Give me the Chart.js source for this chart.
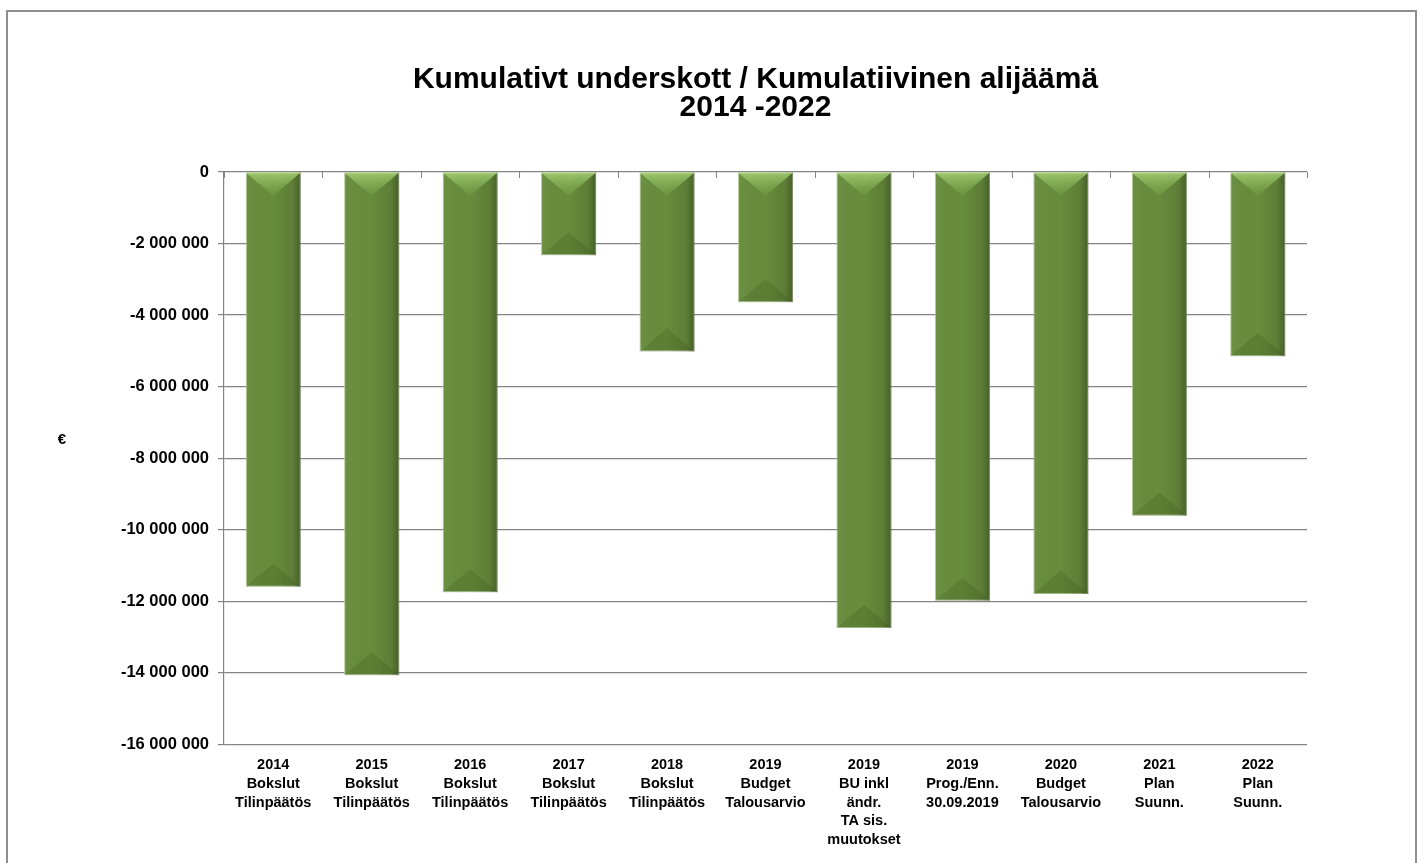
<!DOCTYPE html>
<html>
<head>
<meta charset="utf-8">
<script src="https://cdn.jsdelivr.net/npm/chart.js@4/dist/chart.umd.min.js"></script>
<style>
    body { margin: 0; background: #fff; overflow: hidden; }
    #frame {
        position: absolute; left: 6px; top: 10px;
        width: 1407px; height: 900px;
        border: 2px solid #8e8e8e;
    }
    #chartContainer { position: absolute; left: 0; top: 0; width: 1421px; height: 863px; }
</style>
</head>
<body>
<div id="frame"></div>
<div id="chartContainer"><canvas id="deficitChart"></canvas></div>
<script>
// Data
const categories = [
    ["2014", "Bokslut", "Tilinpäätös"],
    ["2015", "Bokslut", "Tilinpäätös"],
    ["2016", "Bokslut", "Tilinpäätös"],
    ["2017", "Bokslut", "Tilinpäätös"],
    ["2018", "Bokslut", "Tilinpäätös"],
    ["2019", "Budget", "Talousarvio"],
    ["2019", "BU inkl", "ändr.", "TA sis.", "muutokset"],
    ["2019", "Prog./Enn.", "30.09.2019"],
    ["2020", "Budget", "Talousarvio"],
    ["2021", "Plan", "Suunn."],
    ["2022", "Plan", "Suunn."]
];
const deficit = [
    -11600000, -14070000, -11750000, -2330000, -5020000, -3640000,
    -12750000, -11990000, -11800000, -9610000, -5150000
];
const yTicks = [0, -2000000, -4000000, -6000000, -8000000, -10000000, -12000000, -14000000, -16000000];
const titleLines = ["Kumulativt underskott / Kumulatiivinen alijäämä", "2014 -2022"];
const yAxisTitle = "€";

const FONT = "'Liberation Sans', Arial, sans-serif";
const GRID = "#848484";

// Format like "-2 000 000"
function fmt(v) {
    const s = Math.abs(v).toString().replace(/\B(?=(\d{3})+(?!\d))/g, " ");
    return (v < 0 ? "-" : "") + s;
}

// Bevel / shading on top of the plain bars, plus title and axis decorations
const bevelPlugin = {
    id: "bevel",
    afterDatasetsDraw(chart) {
        const ctx = chart.ctx;
        chart.getDatasetMeta(0).data.forEach(function (bar) {
            const p = bar.getProps(["x", "y", "base", "width"], true);
            const left = p.x - p.width / 2, right = p.x + p.width / 2;
            const top = Math.min(p.y, p.base), bottom = Math.max(p.y, p.base);
            const h = bottom - top;
            const b = Math.min(p.width * 0.42, h / 2);
            ctx.save();
            // side shading
            let g = ctx.createLinearGradient(left, 0, right, 0);
            g.addColorStop(0, "rgba(255,255,255,0.04)");
            g.addColorStop(0.5, "rgba(0,0,0,0)");
            g.addColorStop(0.85, "rgba(0,0,0,0.1)");
            g.addColorStop(1, "rgba(0,0,0,0.32)");
            ctx.fillStyle = g;
            ctx.fillRect(left, top, p.width, h);
            // top facet
            g = ctx.createLinearGradient(0, top, 0, top + b);
            g.addColorStop(0, "rgba(170,215,120,0.8)");
            g.addColorStop(1, "rgba(140,190,95,0.12)");
            ctx.fillStyle = g;
            ctx.beginPath();
            ctx.moveTo(left, top);
            ctx.lineTo(right, top);
            ctx.lineTo(p.x, top + b);
            ctx.closePath();
            ctx.fill();
            // bottom facet
            ctx.fillStyle = "rgba(30,50,10,0.14)";
            ctx.beginPath();
            ctx.moveTo(left, bottom);
            ctx.lineTo(right, bottom);
            ctx.lineTo(p.x, bottom - b);
            ctx.closePath();
            ctx.fill();
            ctx.restore();
        });
    },
    afterDraw(chart) {
        const ctx = chart.ctx;
        const xs = chart.scales.x, ys = chart.scales.y;
        const area = chart.chartArea;
        const zero = ys.getPixelForValue(0);
        ctx.save();
        // category tick marks on the zero line
        ctx.strokeStyle = GRID;
        ctx.lineWidth = 1;
        for (let i = 0; i <= categories.length; i++) {
            const px = Math.round(xs.getPixelForValue(i - 0.5)) + 0.5;
            ctx.beginPath();
            ctx.moveTo(px, zero);
            ctx.lineTo(px, zero + 6);
            ctx.stroke();
        }
        ctx.fillStyle = "#000";
        ctx.textAlign = "center";
        ctx.textBaseline = "middle";
        // title, centred over the plot area
        ctx.font = "bold 30px " + FONT;
        const cx = (area.left + area.right) / 2 - 10;
        ctx.fillText(titleLines[0], cx, area.top - 92);
        ctx.fillText(titleLines[1], cx, area.top - 64);
        // horizontal "€" axis title
        ctx.font = "bold 15px " + FONT;
        ctx.fillText(yAxisTitle, area.left - 162, (area.top + area.bottom) / 2 - 18);
        ctx.restore();
    }
};

const ctx = document.getElementById("deficitChart").getContext("2d");
new Chart(ctx, {
    type: "bar",
    data: {
        labels: categories,
        datasets: [{
            label: "Kumulativt underskott",
            data: deficit,
            backgroundColor: "#678c3c",
            borderColor: "rgba(175,200,140,0.9)",
            borderWidth: 1,
            borderSkipped: false,
            categoryPercentage: 1,
            barPercentage: 0.56
        }]
    },
    options: {
        responsive: true,
        maintainAspectRatio: false,
        animation: false,
        layout: { padding: { left: 0, right: 114, top: 172, bottom: 2 } },
        plugins: {
            legend: { display: false },
            tooltip: { enabled: false },
            title: { display: false }
        },
        scales: {
            x: {
                grid: { display: false, drawTicks: false },
                border: { display: false },
                ticks: {
                    color: "#000",
                    padding: 12,
                    maxRotation: 0,
                    autoSkip: false,
                    font: { family: FONT, size: 14.5, weight: "bold", lineHeight: 1.28 }
                }
            },
            y: {
                min: -16000000,
                max: 0,
                afterFit: function (scale) { scale.width = 224; },
                afterBuildTicks: function (scale) {
                    scale.ticks = yTicks.map(function (v) { return { value: v }; });
                },
                grid: { color: GRID, lineWidth: 1.2, tickLength: 6 },
                border: { display: true, color: GRID, width: 1.2 },
                ticks: {
                    color: "#000",
                    padding: 9,
                    font: { family: FONT, size: 16.5, weight: "bold" },
                    callback: function (v) { return fmt(v); }
                }
            }
        }
    },
    plugins: [bevelPlugin]
});
</script>
</body>
</html>
